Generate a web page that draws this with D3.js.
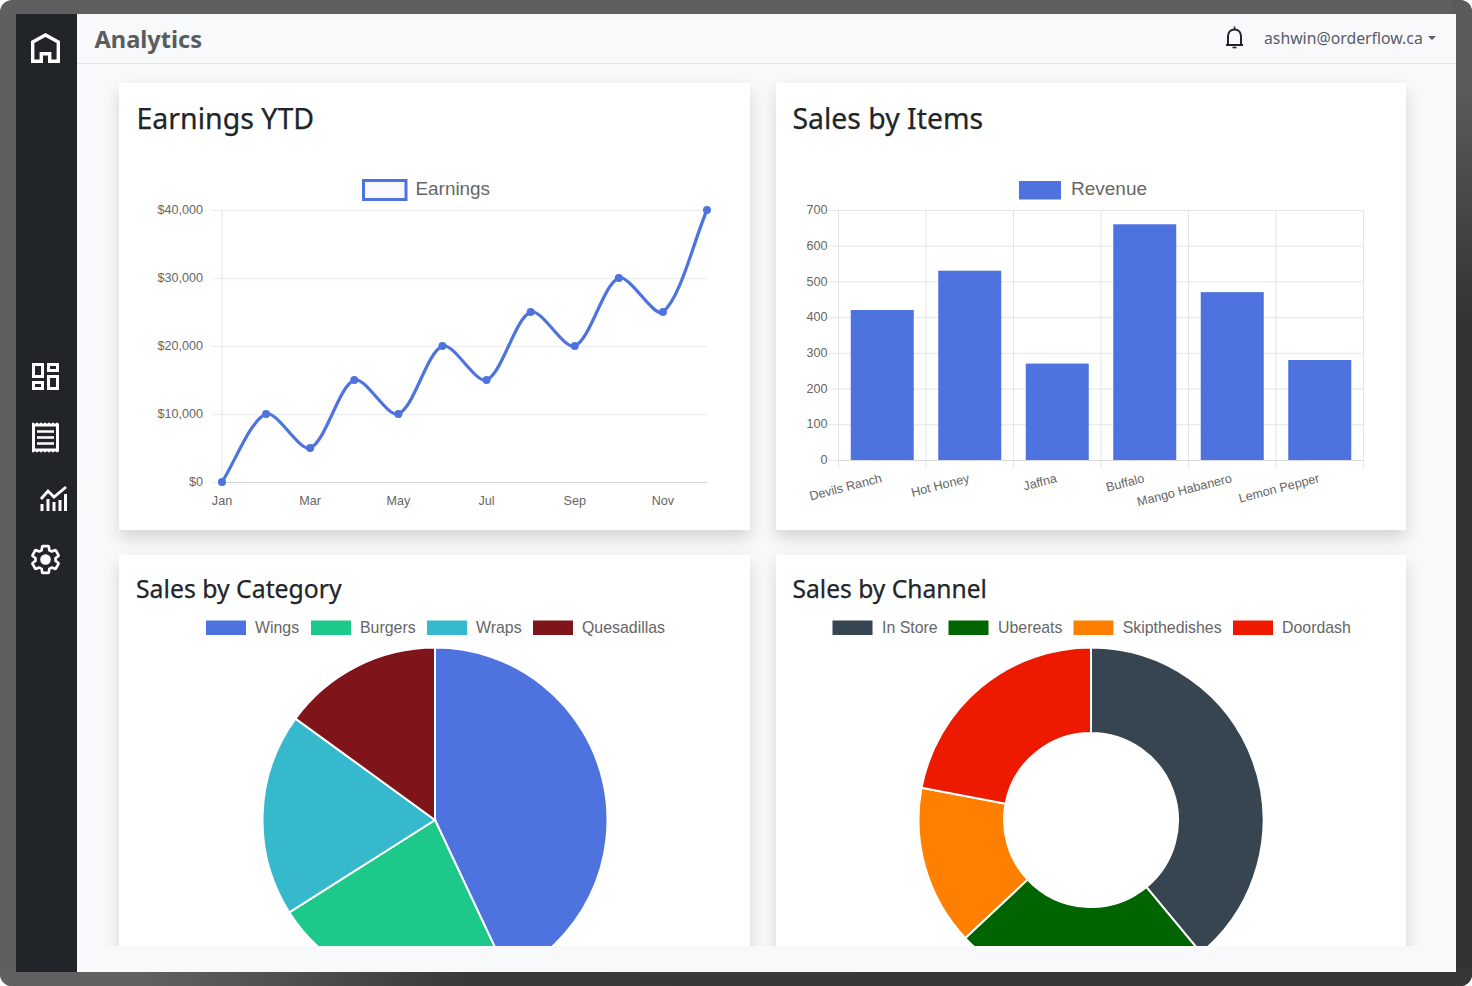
<!DOCTYPE html>
<html>
<head>
<meta charset="utf-8">
<title>Analytics</title>
<script src="https://cdnjs.cloudflare.com/ajax/libs/d3/7.8.5/d3.min.js"></script>
<style>
html, body { margin: 0; padding: 0; background: #fff; overflow: hidden; }
#frame { position: absolute; left: 0; top: 0; width: 1472px; height: 986px; border-radius: 12px; overflow: hidden; background: #5f5f5f; }
#frameRight { position: absolute; right: 0; top: 0; width: 20px; height: 986px; background: linear-gradient(to bottom, #5a5a5a 90px, #333 320px); }
#frameBottom { position: absolute; left: 0; bottom: 0; width: 1472px; height: 18px; background: linear-gradient(to right, #616161 140px, #383838 470px, #363636 100%); }
#app { position: absolute; left: 16px; top: 14px; width: 1440px; height: 958px; background: #f8f9fa; overflow: hidden; }
#side { position: absolute; left: 0; top: 0; width: 61px; height: 958px; background: #212529; }
#top { position: absolute; left: 61px; top: 0; width: 1379px; height: 49px; border-bottom: 1px solid #e1e2e5; }
#scroll { position: absolute; left: 85px; top: 50px; width: 1340px; height: 882px; overflow: hidden; }
.card { position: absolute; background: #fff; box-shadow: 0 8px 16px 0 rgba(0,0,0,.15); }
svg { position: absolute; left: 0; top: 0; }
</style>
</head>
<body>
<div id="frame"><div id="frameRight"></div><div id="frameBottom"></div></div>
<div id="app">
    <div id="side"></div>
    <div id="top"></div>
    <div id="scroll">
        <div class="card" style="left:18px;top:19px;width:631px;height:447px"></div>
        <div class="card" style="left:674.5px;top:19px;width:630.5px;height:447px"></div>
        <div class="card" style="left:18px;top:491px;width:631px;height:460px"></div>
        <div class="card" style="left:674.5px;top:491px;width:630.5px;height:460px"></div>
    </div>
</div>
<svg id="chart" width="1472" height="986"></svg>
<script>
const FONT_UI = '"Noto Sans", "Open Sans", sans-serif'
const FONT_CHART = '"Liberation Sans", Arial, sans-serif'

// earnings
const months = ['Jan','Feb','Mar','Apr','May','Jun','Jul','Aug','Sep','Oct','Nov','Dec']
const earnings = [0,10000,5000,15000,10000,20000,15000,25000,20000,30000,25000,40000]
const earningTicks = [0,10000,20000,30000,40000]

// items
const items = ['Devils Ranch','Hot Honey','Jaffna','Buffalo','Mango Habanero','Lemon Pepper']
const revenue = [420,530,270,660,470,280]
const revenueTicks = [0,100,200,300,400,500,600,700]

// category
const categories = ['Wings','Burgers','Wraps','Quesadillas']
const categoryValues = [43,23,19,15]
const categoryColors = ['#4e73df','#1cc88a','#36b9cc','#7f141a']

// channel
const channels = ['In Store','Ubereats','Skipthedishes','Doordash']
const channelValues = [39,24,15,22]
const channelColors = ['#36454f','#006400','#ff7f00','#ee1a00']

const BLUE = '#4e73df'
const svg = d3.select('#chart')

svg.append('defs').append('clipPath').attr('id','viewClip')
    .append('rect').attr('x',77).attr('y',64).attr('width',1379).attr('height',882)

const view = svg.append('g').attr('clip-path','url(#viewClip)')

// header + sidebar
const addText = (parent, x, y, str, size, color, opt = {}) => parent.append('text')
    .attr('x',x).attr('y',y)
    .attr('font-family',opt.family || FONT_UI)
    .attr('font-size',size)
    .attr('font-weight',opt.weight || 400)
    .attr('fill',color)
    .attr('text-anchor',opt.anchor || 'start')
    .text(str)

addText(svg,94.5,48,'Analytics',23.6,'#5a5c5e',{weight:700})
addText(svg,1264,44,'ashwin@orderflow.ca',15.8,'#5a5c69')
svg.append('path').attr('d','M1428 36h8l-4 4z').attr('fill','#5a5c69')

// bell
const bell = svg.append('g').attr('fill','none').attr('stroke','#212529').attr('stroke-width',2)
bell.append('path').attr('d','M1228 44v-7.5c0-4 2.6-7 6.5-7s6.5 3 6.5 7v7.5')
bell.append('path').attr('d','M1226 45h17')
bell.append('path').attr('d','M1232.5 47.5h4').attr('stroke-width',1.6)
bell.append('path').attr('d','M1234.5 29v-2.5').attr('stroke-width',1.6)

const icons = svg.append('g').attr('fill','none').attr('stroke','#fff').attr('stroke-width',3)
// home
icons.append('path').attr('stroke-width',3.4)
    .attr('d','M32.7 61.3V42L45.5 35 58.3 42V61.3H49.7V53.7H41.3V61.3Z')
// dashboard
icons.append('path').attr('stroke-width',0).attr('fill','#fff')
    .attr('transform','translate(27.5,358.5) scale(1.5)')
    .attr('d','M19 5v2h-4V5h4M9 5v6H5V5h4m10 8v6h-4v-6h4M9 17v2H5v-2h4M21 3h-8v6h8V3zM11 3H3v10h8V3zm10 8h-8v10h8V11zm-10 4H3v6h8v-6z')
// receipt
icons.append('path').attr('stroke-width',3).attr('d','M33.5 425h24v25h-24z')
icons.append('path').attr('stroke-width',2.6).attr('d','M37 431.5h17M37 437.5h17M37 443.5h17')
icons.append('path').attr('stroke-width',1.5).attr('stroke-dasharray','2 2').attr('d','M32 423.5h27M32 451.5h27')
// growth
icons.append('path').attr('stroke-width',2.8).attr('d','M41 499l7-8 6 6 12-10')
icons.append('path').attr('stroke-width',3).attr('d','M42 511v-7M48 511v-12M54 511v-9M60 511v-11M65.5 511v-17')
// settings
icons.append('path').attr('stroke-width',1.9).attr('stroke-linejoin','round')
    .attr('transform','translate(28.7,542.7) scale(1.4)')
    .attr('d','M19.14 12.94c.04-.3.06-.61.06-.94 0-.32-.02-.64-.07-.94l2.03-1.58c.18-.14.23-.41.12-.61l-1.92-3.32c-.12-.22-.37-.29-.59-.22l-2.39.96c-.5-.38-1.03-.7-1.62-.94l-.36-2.54c-.04-.24-.24-.41-.48-.41h-3.84c-.24 0-.43.17-.47.41l-.36 2.54c-.59.24-1.13.57-1.62.94l-2.39-.96c-.22-.08-.47 0-.59.22L2.74 8.87c-.12.21-.08.47.12.61l2.03 1.58c-.05.3-.09.63-.09.94s.02.64.07.94l-2.03 1.58c-.18.14-.23.41-.12.61l1.92 3.32c.12.22.37.29.59.22l2.39-.96c.5.38 1.03.7 1.62.94l.36 2.54c.05.24.24.41.48.41h3.84c.24 0 .44-.17.47-.41l.36-2.54c.59-.24 1.13-.56 1.62-.94l2.39.96c.22.08.47 0 .59-.22l1.92-3.32c.12-.22.07-.47-.12-.61l-2.01-1.58z')
icons.append('circle').attr('cx',45.5).attr('cy',559.5).attr('r',5.3).attr('fill','#fff').attr('stroke','none')

// card titles
const addTitle = (x, y, str, size) => addText(view,x,y,str,size,'#212529').attr('stroke','#212529').attr('stroke-width',0.25)
addTitle(136.5,129,'Earnings YTD',28.5)
addTitle(792.5,129,'Sales by Items',28.4)
addTitle(136,597.5,'Sales by Category',24.8)
addTitle(792.5,597.5,'Sales by Channel',24.6)

// axis styling shared by the two cartesian charts
const styleAxis = (g, color) => {
    g.selectAll('.domain').remove()
    g.selectAll('line').attr('stroke',color)
    g.selectAll('text').attr('font-family',FONT_CHART).attr('font-size',12.6).attr('fill','#666')
}

/* ---------- earnings line ---------- */
const lineX = d3.scalePoint().domain(months).range([222,707])
const lineY = d3.scaleLinear().domain([0,40000]).range([482,210])

const lineYAxis = d3.axisLeft(lineY).tickValues(earningTicks).tickSize(10).tickPadding(9)
    .tickFormat(d => '$' + d3.format(',')(d))
const lineYg = view.append('g').attr('transform','translate(222,0)').call(lineYAxis)
styleAxis(lineYg,'#eaecf4')
lineYg.selectAll('text').attr('dy','0.29em')
lineYg.selectAll('.tick').append('line').attr('x1',0).attr('x2',485)
    .attr('stroke',d => d === 0 ? '#d4d4dc' : '#eaecf4')
view.append('line').attr('x1',222).attr('x2',222).attr('y1',210).attr('y2',482).attr('stroke','#e3e6f0')

const lineXAxis = d3.axisBottom(lineX).tickValues(months.filter((d,i) => i % 2 === 0)).tickSize(0).tickPadding(14)
const lineXg = view.append('g').attr('transform','translate(-0.5,482)').call(lineXAxis)
styleAxis(lineXg,'#eaecf4')

// chart.js style bezier, tension .3
const TENSION = 0.3
const pts = earnings.map((v,i) => [lineX(months[i]), lineY(v)])
const ctrl = pts.map((p,i) => {
    const a = pts[i-1] || p, b = pts[i+1] || p
    const d01 = Math.hypot(p[0]-a[0],p[1]-a[1]), d12 = Math.hypot(b[0]-p[0],b[1]-p[1])
    const fa = TENSION * d01 / (d01+d12), fb = TENSION * d12 / (d01+d12)
    return {
        prev: [p[0]-fa*(b[0]-a[0]), p[1]-fa*(b[1]-a[1])],
        next: [p[0]+fb*(b[0]-a[0]), p[1]+fb*(b[1]-a[1])]
    }
})
const linePath = d3.path()
pts.forEach((p,i) => {
    if(i === 0){ linePath.moveTo(p[0],p[1]); return }
    linePath.bezierCurveTo(ctrl[i-1].next[0],ctrl[i-1].next[1],ctrl[i].prev[0],ctrl[i].prev[1],p[0],p[1])
})
view.append('path').attr('d',linePath.toString()).attr('fill','none').attr('stroke',BLUE).attr('stroke-width',3.2)
view.selectAll('.dot').data(earnings).enter().append('circle')
    .attr('cx',(d,i) => lineX(months[i])).attr('cy',d => lineY(d)).attr('r',4).attr('fill',BLUE)

view.append('rect').attr('x',363.5).attr('y',180.5).attr('width',42.5).attr('height',19)
    .attr('fill','#f8f9fc').attr('stroke',BLUE).attr('stroke-width',3)
addText(view,415.5,195,'Earnings',18.9,'#666',{family:FONT_CHART})

/* ---------- items bar ---------- */
const barX = d3.scaleBand().domain(items).range([838.5,1363.5]).paddingInner(0).paddingOuter(0)
const barY = d3.scaleLinear().domain([0,700]).range([460,210])

const barYg = view.append('g').attr('transform','translate(838.5,0)')
    .call(d3.axisLeft(barY).tickValues(revenueTicks).tickSize(10).tickPadding(1))
styleAxis(barYg,'#e5e5e5')
barYg.selectAll('text').attr('dy','0.29em')
barYg.selectAll('.tick').append('line').attr('x1',0).attr('x2',525)
    .attr('stroke',d => d === 0 ? '#d9d9d9' : '#e5e5e5')

barX.domain().concat(['end']).forEach((d,i) => {
    const x = 838.5 + i*barX.bandwidth()
    view.append('line').attr('x1',x).attr('x2',x).attr('y1',210).attr('y2',468).attr('stroke','#e5e5e5')
})

const BAR_WIDTH = 63
view.selectAll('.bar').data(revenue).enter().append('rect')
    .attr('x',(d,i) => barX(items[i]) + (barX.bandwidth()-BAR_WIDTH)/2)
    .attr('y',d => barY(d))
    .attr('width',BAR_WIDTH)
    .attr('height',d => barY(0)-barY(d))
    .attr('fill',BLUE)

const barXg = view.append('g').attr('transform','translate(0.3,460)')
    .call(d3.axisBottom(barX).tickSize(0).tickPadding(0))
styleAxis(barXg,'#e5e5e5')
barXg.selectAll('text')
    .attr('text-anchor','end').attr('dy',0).attr('y',0)
    .attr('transform','translate(0,22) rotate(-14.5)')

view.append('rect').attr('x',1019).attr('y',181).attr('width',42).attr('height',18.5).attr('fill',BLUE)
addText(view,1071,195,'Revenue',19,'#666',{family:FONT_CHART})

/* ---------- pies ---------- */
const drawPie = (cx, values, colors, inner) => {
    const arcs = d3.pie().sort(null)(values)
    const arc = d3.arc().innerRadius(inner).outerRadius(172.5)
    view.append('g').attr('transform',`translate(${cx},820)`)
        .selectAll('path').data(arcs).enter().append('path')
        .attr('d',arc)
        .attr('fill',(d,i) => colors[i])
        .attr('stroke','#fff').attr('stroke-width',2)
}
drawPie(435,categoryValues,categoryColors,0)
drawPie(1091,channelValues,channelColors,87)

const drawLegend = (names, colors, boxX, textX) => {
    names.forEach((name,i) => {
        view.append('rect').attr('x',boxX[i]).attr('y',620.5).attr('width',40).attr('height',14.5).attr('fill',colors[i])
        addText(view,textX[i],632.8,name,15.9,'#666',{family:FONT_CHART})
    })
}
drawLegend(categories,categoryColors,[206,311,427,533],[255,360,476,582])
drawLegend(channels,channelColors,[832.5,948.5,1073.5,1233],[882,998,1122.7,1282])
</script>
</body>
</html>
